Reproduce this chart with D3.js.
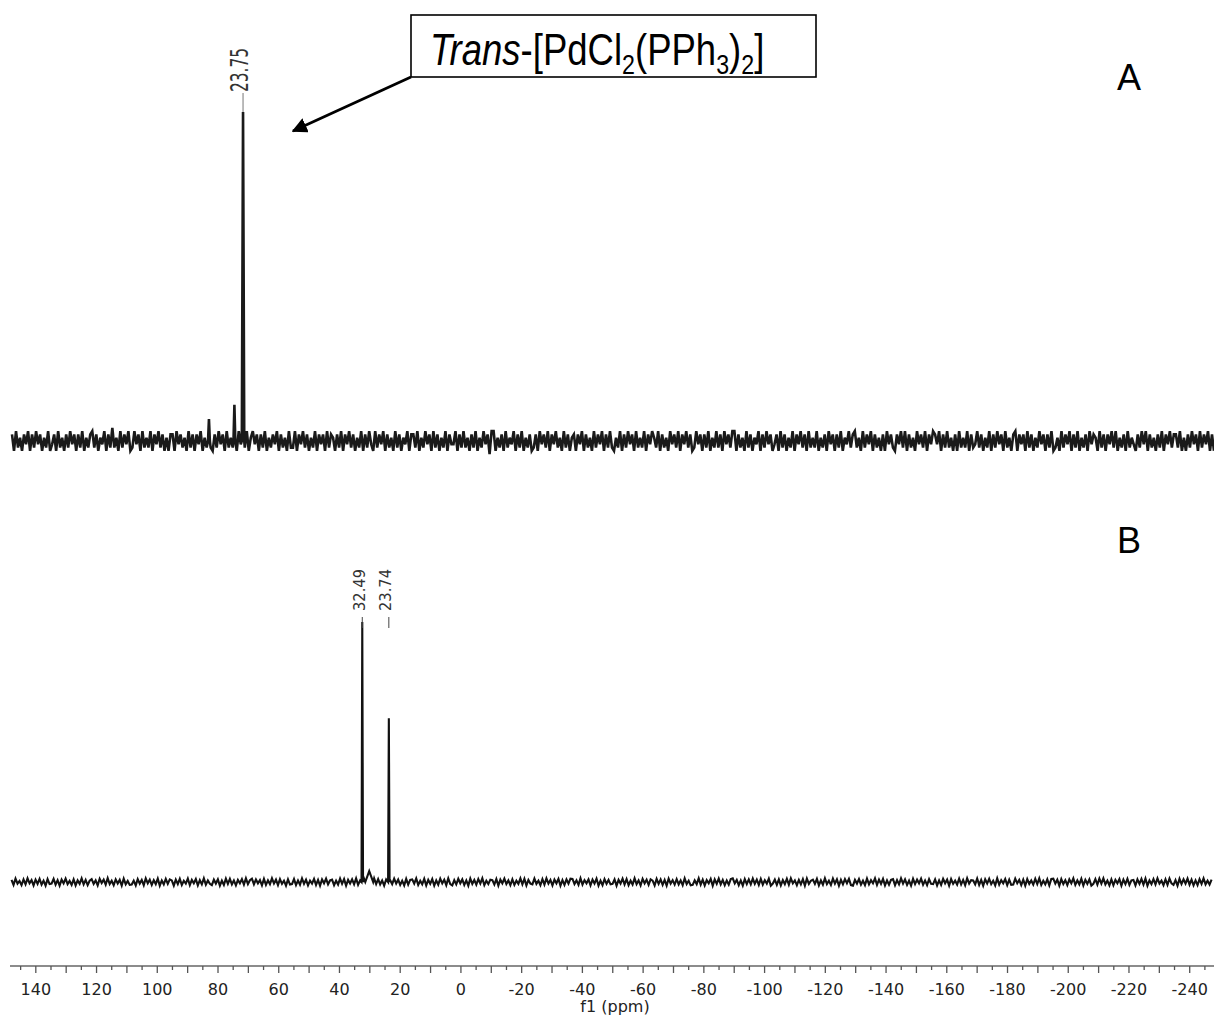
<!DOCTYPE html>
<html><head><meta charset="utf-8">
<script src="https://cdn.jsdelivr.net/npm/d3@7"></script>
<style>body{margin:0;background:#fff}svg{display:block}</style>
</head><body><svg id="c" width="1214" height="1016"></svg>
<script>
// ---------- data ----------
const axisDomain = [148.5, -248];           // ppm range of the shared f1 axis (spectrum B)
const tickLabels = [140,120,100,80,60,40,20,0,-20,-40,-60,-80,-100,-120,-140,-160,-180,-200,-220,-240];
const majorTicks = [140,130,120,110,100,90,80,70,60,50,40,30,20,10,0,-10,-20,-30,-40,-50,-60,-70,-80,-90,-100,-110,-120,-130,-140,-150,-160,-170,-180,-190,-200,-210,-220,-230,-240];
const minorTicks = [145,135,125,115,105,95,85,75,65,55,45,35,25,15,5,-5,-15,-25,-35,-45,-55,-65,-75,-85,-95,-105,-115,-125,-135,-145,-155,-165,-175,-185,-195,-205,-215,-225,-235,-245];
const axisTitle = "f1 (ppm)";

// spectrum A (pasted panel, own ppm range)
const specADomain = [100, -296.7];
const peaksA = [{ppm: 35.0, h: 6.7, w: 0.3}, {ppm: 26.6, h: 11, w: 0.3}, {ppm: 23.75, h: 100, w: 0.4}];
const labelsA = [{ppm: 23.75, text: "23.75"}];
const noiseA = [
2,-3,3,-2,1,-3,2,-1,3,-3,2,-2,3,-1,2,-3,1,-2,3,-3,
-1,2,-3,3,-2,1,-3,2,-2,3,-1,2,-3,2,-2,3,-3,1,-2,2,
3,-2,2,-3,1,-1,3,-3,2,-2,4,-2,1,-3,3,-2,2,-1,3,-3,
-2,3,-1,2,-3,3,-2,1,-2,3,-3,2,-1,3,-2,2,-3,1,-3,2,
2,-3,3,-1,2,-2,1,-3,3,-2,2,-3,2,-1,3,-3,1,-2,3,-2,
-3,2,-2,3,-1,2,-3,3,-2,1,-2,2,-3,3,-1,2,-2,3,-3,1,
3,-1,2,-3,2,-2,3,-3,1,-2,2,-1,3,-3,2,-2,1,-3,3,-2,
-2,3,-3,2,-1,3,-2,2,-3,1,-2,3,-3,2,-1,2,-3,3,-2,2,
1,-3,2,-2,3,-3,2,-1,3,-2,2,-3,1,-2,3,-3,2,-2,3,-1,
-3,3,-2,2,-1,3,-3,2,-2,1,-3,3,-2,2,-3,1,-1,3,-3,2,
2,-2,3,-3,1,-2,3,-1,2,-3,3,-2,2,-3,1,-2,3,-3,2,-1,
-1,3,-3,2,-2,3,-2,1,-3,2,-2,3,-3,1,-2,3,-1,2,-4,3,
3,-3,1,-2,2,-3,3,-2,1,-1,3,-3,2,-2,3,-3,1,-2,2,-3,
-2,2,-3,3,-1,2,-2,3,-3,2,-1,3,-2,1,-3,3,-2,2,-3,1,
2,-3,2,-1,3,-3,2,-2,1,-3,3,-2,2,-1,3,-3,2,-2,3,-2,
-3,1,-2,3,-3,2,-2,3,-1,2,-3,3,-2,1,-2,3,-3,2,-1,3,
1,-2,3,-3,2,-2,1,-3,3,-1,2,-2,3,-3,2,-1,3,-2,2,-3,
-2,3,-1,2,-3,2,-2,3,-3,1,-2,3,-2,2,-3,3,-1,2,-2,3,
3,-3,2,-2,1,-3,3,-2,2,-3,1,-1,3,-3,2,-2,3,-1,2,-3,
-1,2,-3,3,-2,2,-3,1,-2,3,-3,2,-1,3,-2,2,-3,3,-2,1,
-2,3,-3,1,-2,2,-3,3,-1,2,-3,2,-2,3,-3,1,-1,3,-2,2,
3,-2,1,-3,3,-2,2,-1,3,-3,2,-2,1,-3,2,-3,3,-1,2,-2,
-3,2,-1,3,-2,3,-3,2,-2,1,-3,3,-1,2,-2,3,-3,2,-1,3,
2,-1,3,-3,2,-2,3,-2,1,-3,2,-3,3,-2,1,-2,3,-3,2,-2,
-1,3,-2,2,-3,1,-2,3,-3,2,-2,3,-1,2,-3,3,-2,1,-3,2,
3,-3,2,-1,2,-3,3,-2,2,-3,1,-2,3,-1,2,-3,2,-2,3,-3,
-2,1,-3,3,-2,2,-1,3,-3,2,-2,3,-3,1,-2,2,-3,3,-1,2,
1,-3,3,-2,2,-3,2,-1,3,-2,3,-3,1,-2,2,-3,3,-2,1,-1,
-3,2,-2,3,-1,3,-3,2,-2,1,-3,2,-2,3,-3,2,-1,3,-2,2,
2,-2,3,-3,1,-3,2,-2,3,-1,2,-3,3,-2,2,-1,3,-3,2,-3];

// spectrum B
const peaksB = [{ppm: 32.49, h: 100, w: 0.25}, {ppm: 30.2, h: 4.2, w: 1.3}, {ppm: 23.74, h: 63, w: 0.25}];
const labelsB = [{ppm: 32.49, text: "32.49"}, {ppm: 23.74, text: "23.74"}];
const noiseB = [
0.8,-1.1,1.3,-0.6,0.4,-1.2,1.0,-0.9,1.4,-0.5,0.7,-1.3,0.9,-0.7,1.2,-1.0,0.5,-1.4,1.1,-0.8,
-0.6,1.2,-1.0,0.7,-1.4,0.9,-0.5,1.3,-0.8,0.4,-1.1,1.0,-1.3,0.6,-0.7,1.4,-0.9,0.8,-1.2,0.5,
1.1,-0.7,0.6,-1.3,1.2,-0.4,0.9,-1.0,1.5,-0.8,0.5,-1.2,1.0,-0.6,0.8,-1.4,1.3,-0.9,0.4,-1.1,
-1.0,0.5,-1.3,1.1,-0.6,0.8,-1.2,1.4,-0.5,0.9,-1.1,0.7,-0.8,1.3,-1.4,0.6,-0.9,1.2,-0.7,1.0,
0.6,-1.4,0.9,-0.8,1.2,-1.1,0.5,-0.6,1.3,-1.2,0.8,-0.5,1.1,-1.3,0.7,-0.9,1.4,-1.0,0.6,-0.7,
-1.2,0.9,-0.6,1.0,-1.4,0.5,-1.1,1.3,-0.7,1.2,-0.9,0.6,-1.3,0.8,-0.5,1.1,-1.0,1.4,-0.8,0.7,
1.3,-0.9,1.0,-0.5,0.7,-1.3,1.2,-1.1,0.6,-0.8,1.4,-0.6,0.9,-1.2,1.1,-0.7,0.5,-1.4,1.0,-1.0,
-0.8,1.1,-1.2,0.6,-1.0,1.4,-0.7,0.9,-1.3,0.5,-0.6,1.2,-1.1,0.8,-1.4,1.0,-0.5,1.3,-0.9,0.6,
0.9,-1.2,0.5,-1.0,1.3,-0.7,1.1,-1.4,0.8,-0.6,1.0,-0.9,1.4,-1.1,0.6,-1.3,1.2,-0.5,0.7,-1.2,
-0.5,1.4,-0.8,1.1,-0.9,0.6,-1.4,1.0,-1.2,0.7,-0.8,1.3,-0.6,0.9,-1.1,0.5,-1.3,1.2,-1.0,0.8,
1.0,-0.6,1.4,-1.1,0.5,-0.9,1.2,-1.3,0.8,-0.7,1.1,-1.4,0.6,-1.0,1.3,-0.5,0.9,-1.2,1.4,-0.8,
-1.3,0.7,-0.9,1.2,-0.5,1.0,-1.1,0.6,-1.4,1.3,-0.7,0.8,-1.0,1.1,-0.6,1.4,-1.2,0.5,-0.8,0.9,
0.7,-1.0,1.1,-1.4,0.9,-0.5,1.3,-0.8,0.6,-1.2,1.0,-1.1,0.5,-0.7,1.4,-0.9,1.2,-1.3,0.8,-0.6,
-0.9,1.3,-0.7,0.5,-1.2,1.1,-1.0,1.4,-0.6,0.8,-1.3,0.9,-0.5,1.2,-1.4,0.7,-1.1,1.0,-0.6,1.3,
1.2,-0.8,0.6,-1.1,1.4,-1.0,0.7,-0.5,1.0,-1.3,0.9,-0.6,1.3,-1.4,0.5,-1.2,1.1,-0.7,0.8,-0.9,
-0.7,1.0,-1.4,0.8,-0.6,1.3,-0.9,1.1,-1.2,0.5,-1.0,1.4,-0.8,0.6,-1.3,1.2,-0.5,0.9,-1.1,1.0,
0.5,-1.3,1.2,-0.7,1.0,-1.1,0.8,-1.4,1.3,-0.6,0.7,-1.0,1.1,-0.9,0.6,-1.2,1.4,-0.8,0.5,-1.3,
-1.1,0.6,-0.8,1.4,-1.0,0.9,-1.3,0.7,-0.5,1.2,-1.4,1.0,-0.7,1.3,-0.9,0.8,-1.2,0.6,-1.0,1.1,
1.4,-0.5,0.8,-1.2,0.6,-1.4,1.1,-0.8,1.0,-0.9,1.3,-0.7,0.9,-1.1,1.2,-1.0,0.7,-0.6,1.3,-1.4,
-0.6,0.9,-1.1,1.0,-1.3,0.7,-0.8,1.2,-1.0,1.4,-0.5,0.6,-1.2,0.8,-0.9,1.1,-1.4,1.3,-0.7,0.5,
0.9,-0.7,1.2,-1.3,0.6,-1.0,1.4,-0.8,0.5,-1.1,1.3,-0.6,1.0,-1.4,0.8,-0.9,1.1,-0.5,1.2,-1.2,
-1.4,0.8,-0.6,1.1,-1.0,0.5,-1.2,1.3,-0.9,0.7,-0.5,1.4,-1.1,0.9,-0.7,1.2,-1.3,0.6,-1.0,0.8,
1.1,-1.2,0.7,-0.9,1.4,-0.6,1.0,-1.1,0.5,-1.4,1.2,-0.8,0.9,-0.5,1.3,-1.0,0.6,-1.2,1.1,-0.7,
-0.8,1.0,-1.3,0.6,-1.1,1.2,-0.5,0.9,-1.4,1.1,-0.7,0.5,-1.0,1.3,-0.9,0.8,-1.2,1.4,-0.6,0.7,
0.6,-0.9,1.3,-1.1,0.8,-1.4,1.0,-0.6,1.2,-0.8,0.5,-1.3,1.4,-1.0,0.7,-0.5,1.1,-1.2,0.9,-1.1,
-1.0,1.3,-0.5,0.8,-1.2,0.9,-1.4,1.1,-0.7,0.6,-1.0,1.2,-0.8,1.4,-1.1,0.5,-0.9,1.0,-1.3,1.2,
1.3,-0.6,0.9,-1.4,1.1,-0.8,0.7,-1.2,1.0,-0.5,1.4,-1.1,0.6,-0.9,1.2,-1.3,0.8,-0.7,1.0,-1.4,
-0.7,1.1,-1.0,1.3,-0.6,1.4,-0.9,0.5,-1.3,1.0,-1.2,0.8,-0.5,1.1,-1.4,0.9,-0.8,1.2,-1.1,0.6,
0.8,-1.3,1.0,-0.7,1.2,-1.0,1.3,-1.4,0.6,-0.8,1.1,-0.9,1.4,-0.6,0.5,-1.2,1.0,-1.1,1.3,-0.5,
-1.1,0.7,-1.4,1.2,-0.8,1.0,-0.6,1.3,-1.0,0.9,-1.3,0.6,-1.2,1.1,-0.7,1.4,-0.9,0.5,-1.0,0.9];

const panelLabels = ["A", "B"];
const compound = {italic: "Trans", parts: [["-[PdCl", false], ["2", true], ["(PPh", false], ["3", true], [")", false], ["2", true], ["]", false]]};

// ---------- drawing ----------
const svg = d3.select("#c");
const X0 = 10, X1 = 1214;

function buildSpectrum(domain, noise, peaks) {
  const n = noise.length;
  const pts = noise.map((v, i) => ({ppm: domain[0] + (domain[1] - domain[0]) * i / (n - 1), v}));
  peaks.forEach(p => {
    for (let k = pts.length - 1; k >= 0; k--) {
      if (Math.abs(pts[k].ppm - p.ppm) < p.w) pts.splice(k, 1);
    }
    pts.push({ppm: p.ppm + p.w, v: 0}, {ppm: p.ppm, v: p.h}, {ppm: p.ppm - p.w, v: 0});
  });
  pts.sort((a, b) => b.ppm - a.ppm);
  return pts;
}

// ----- spectrum A -----
const xA = d3.scaleLinear().domain(specADomain).range([X0 + 2, X1]);
const yA = d3.scaleLinear().domain([0, 100]).range([441, 112]);
const dataA = buildSpectrum(specADomain, noiseA, peaksA);
svg.append("path").datum(dataA)
  .attr("d", d3.line().x(d => xA(d.ppm)).y(d => yA(d.v)))
  .attr("fill", "none").attr("stroke", "#1a1a1a").attr("stroke-width", 2.6);

labelsA.forEach(l => {
  const x = xA(l.ppm);
  svg.append("line").attr("x1", x).attr("x2", x).attr("y1", 93).attr("y2", yA(100))
    .attr("stroke", "#777").attr("stroke-width", 1);
  svg.append("text").attr("transform", `translate(${x - 3},92) rotate(-90)`)
    .attr("dominant-baseline", "central").attr("font-family", "DejaVu Sans").attr("font-size", 24)
    .attr("textLength", 44).attr("lengthAdjust", "spacingAndGlyphs").attr("fill", "#333").text(l.text);
});

// ----- spectrum B -----
const xB = d3.scaleLinear().domain(axisDomain).range([X0, X1]);
const yB = d3.scaleLinear().domain([0, 100]).range([882, 622]);
const dataB = buildSpectrum([axisDomain[0] - 0.5, axisDomain[1] + 0.8], noiseB, peaksB);
svg.append("path").datum(dataB)
  .attr("d", d3.line().x(d => xB(d.ppm)).y(d => yB(d.v)))
  .attr("fill", "none").attr("stroke", "#111").attr("stroke-width", 2.1);

labelsB.forEach(l => {
  const x = xB(l.ppm);
  svg.append("line").attr("x1", x).attr("x2", x).attr("y1", 617).attr("y2", 628)
    .attr("stroke", "#444").attr("stroke-width", 1);
  svg.append("text").attr("transform", `translate(${x - 3},611) rotate(-90)`)
    .attr("dominant-baseline", "central").attr("font-family", "DejaVu Sans").attr("font-size", 16)
    .attr("textLength", 42).attr("lengthAdjust", "spacingAndGlyphs").attr("fill", "#333").text(l.text);
});

// ----- axis -----
const axisY = 966;
svg.append("line").attr("x1", X0).attr("x2", X1).attr("y1", axisY).attr("y2", axisY)
  .attr("stroke", "#666").attr("stroke-width", 1.6);
svg.append("g").selectAll("line").data(majorTicks).join("line")
  .attr("x1", d => xB(d)).attr("x2", d => xB(d)).attr("y1", axisY).attr("y2", axisY + 7)
  .attr("stroke", "#555").attr("stroke-width", 1.3);
svg.append("g").selectAll("line").data(minorTicks).join("line")
  .attr("x1", d => xB(d)).attr("x2", d => xB(d)).attr("y1", axisY).attr("y2", axisY + 4)
  .attr("stroke", "#555").attr("stroke-width", 1.3);
svg.append("g").selectAll("text").data(tickLabels).join("text")
  .attr("x", d => xB(d)).attr("y", 995).attr("text-anchor", "middle")
  .attr("font-family", "DejaVu Sans").attr("font-size", 16).attr("fill", "#222").text(d => d);
svg.append("text").attr("x", 615).attr("y", 1012).attr("text-anchor", "middle")
  .attr("font-family", "DejaVu Sans").attr("font-size", 16).attr("fill", "#222").text(axisTitle);

// ----- panel letters -----
svg.append("text").attr("x", 1129).attr("y", 90).attr("text-anchor", "middle")
  .attr("font-family", "Liberation Sans").attr("font-size", 36).attr("fill", "#000").text(panelLabels[0]);
svg.append("text").attr("x", 1129).attr("y", 553).attr("text-anchor", "middle")
  .attr("font-family", "Liberation Sans").attr("font-size", 36).attr("fill", "#000").text(panelLabels[1]);

// ----- annotation box + arrow -----
svg.append("defs").append("marker").attr("id", "ah").attr("viewBox", "0 0 10 10")
  .attr("refX", 9).attr("refY", 5).attr("markerWidth", 5.5).attr("markerHeight", 5.5)
  .attr("markerUnits", "strokeWidth").attr("orient", "auto")
  .append("path").attr("d", "M0,0 L10,5 L0,10 Z").attr("fill", "#000");
svg.append("line").attr("x1", 411).attr("y1", 77).attr("x2", 293).attr("y2", 131)
  .attr("stroke", "#000").attr("stroke-width", 2.8).attr("marker-end", "url(#ah)");
svg.append("rect").attr("x", 411).attr("y", 15).attr("width", 405).attr("height", 62)
  .attr("fill", "#fff").attr("stroke", "#000").attr("stroke-width", 1.6);
const tg = svg.append("g").attr("transform", "translate(430,65) scale(0.83,1)");
const t = tg.append("text").attr("font-family", "Liberation Sans").attr("font-size", 44).attr("fill", "#000");
t.append("tspan").attr("font-style", "italic").text(compound.italic);
let lastSub = false;
compound.parts.forEach(([s, sub]) => {
  const ts = t.append("tspan").text(s);
  if (sub) { ts.attr("font-size", 28).attr("dy", lastSub ? 0 : 9); }
  else if (lastSub) { ts.attr("dy", -9); }
  lastSub = sub;
});
</script></body></html>
